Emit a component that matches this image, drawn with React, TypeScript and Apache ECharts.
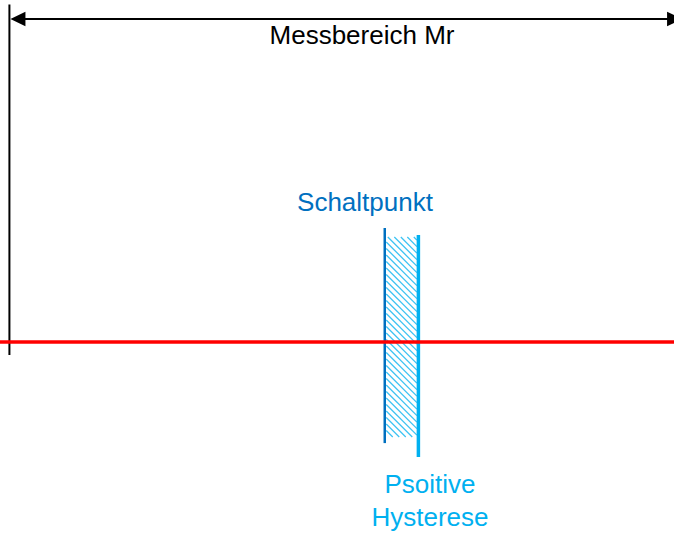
import React, { useEffect, useRef } from "react";
import * as echarts from "echarts";

// Measuring range (x) and levels (y), in chart units
const measuringRange = [0, 100];
const visibleX = [-1.4, 98.8];
const arrowLevel = 10;
const zeroLevel = 0;
const switchPoint = 55.8;
const hysteresisEnd = 60.8;
// vertical extents [top, bottom] of the drawn marks
const rangeMarkerSpan = [10.45, -0.4];
const switchLineSpan = [3.53, -3.13];
const hysteresisLineSpan = [3.31, -3.56];
const hatchSpan = [3.25, -2.94];

const labels = {
  range: "Messbereich Mr",
  switch: "Schaltpunkt",
  hyst1: "Psoitive",
  hyst2: "Hysterese",
};

const FONT = "'Liberation Sans', Arial, sans-serif";

export default function App() {
  const ref = useRef<HTMLDivElement>(null);
  useEffect(() => {
    if (!ref.current) return;
    const chart = echarts.init(ref.current, undefined, { renderer: "svg" });
    const option: any = {
      animation: false,
      backgroundColor: "#ffffff",
      grid: { left: 0, right: 0, top: 19, bottom: 196 },
      xAxis: { type: "value", min: visibleX[0], max: visibleX[1], show: false },
      yAxis: { type: "value", min: zeroLevel, max: arrowLevel, show: false },
      series: [
        {
          // hatched hysteresis band
          type: "custom",
          clip: false,
          silent: true,
          z: 2,
          encode: { x: [0, 1], y: [2, 3] },
          data: [[switchPoint, hysteresisEnd, hatchSpan[0], hatchSpan[1]]],
          renderItem: (params: any, api: any) => {
            const p0 = api.coord([api.value(0), api.value(2)]);
            const p1 = api.coord([api.value(1), api.value(3)]);
            const x0 = p0[0] + 1.5;
            const x1 = p1[0] - 1.5;
            const y0 = p0[1];
            const y1 = p1[1];
            const step = 6.5;
            const children: any[] = [];
            for (let c = x0 - y1; c <= x1 - y0; c += step) {
              const sx = Math.max(x0, y0 + c);
              const sy = sx - c;
              const ex = Math.min(x1, y1 + c);
              const ey = ex - c;
              if (ex > sx) {
                children.push({
                  type: "line",
                  shape: { x1: sx, y1: sy, x2: ex, y2: ey },
                  style: { stroke: "#3CC3F3", lineWidth: 1.3 },
                });
              }
            }
            return { type: "group", children };
          },
        },
        {
          // double-headed range arrow
          type: "custom",
          clip: false,
          silent: true,
          z: 3,
          encode: { x: [0, 1], y: 2 },
          data: [[measuringRange[0], measuringRange[1], arrowLevel]],
          renderItem: (params: any, api: any) => {
            const a = api.coord([api.value(0), api.value(2)]);
            const b = api.coord([api.value(1), api.value(2)]);
            const L = 15;
            const H = 7.3;
            const y = a[1];
            return {
              type: "group",
              children: [
                {
                  type: "line",
                  shape: { x1: a[0] + 4, y1: y, x2: b[0] - 4, y2: y },
                  style: { stroke: "#000000", lineWidth: 2 },
                },
                {
                  type: "polygon",
                  shape: { points: [[a[0] + 1, y], [a[0] + 1 + L, y - H], [a[0] + 1 + L, y + H]] },
                  style: { fill: "#000000" },
                },
                {
                  type: "polygon",
                  shape: { points: [[b[0], y], [b[0] - L, y - H], [b[0] - L, y + H]] },
                  style: { fill: "#000000" },
                },
              ],
            };
          },
        },
        {
          type: "line",
          clip: false,
          symbol: "none",
          silent: true,
          z: 3,
          lineStyle: { color: "#000000", width: 2 },
          data: [
            [measuringRange[0], rangeMarkerSpan[0]],
            [measuringRange[0], rangeMarkerSpan[1]],
          ],
        },
        {
          type: "line",
          clip: false,
          symbol: "none",
          silent: true,
          z: 3,
          lineStyle: { color: "#0070C0", width: 2.5 },
          data: [
            [switchPoint, switchLineSpan[0]],
            [switchPoint, switchLineSpan[1]],
          ],
        },
        {
          type: "line",
          clip: false,
          symbol: "none",
          silent: true,
          z: 3,
          lineStyle: { color: "#00B0F0", width: 3.5 },
          data: [
            [hysteresisEnd, hysteresisLineSpan[0]],
            [hysteresisEnd, hysteresisLineSpan[1]],
          ],
        },
        {
          type: "line",
          clip: false,
          symbol: "none",
          silent: true,
          z: 5,
          lineStyle: { color: "#FF0000", width: 3.5 },
          data: [
            [visibleX[0], zeroLevel],
            [visibleX[1], zeroLevel],
          ],
        },
      ],
      graphic: [
        {
          type: "text",
          x: 362,
          y: 35,
          style: { text: labels.range, fill: "#000000", font: `26px ${FONT}`, textAlign: "center", textVerticalAlign: "middle" },
        },
        {
          type: "text",
          x: 365,
          y: 202,
          style: { text: labels.switch, fill: "#0070C0", font: `26px ${FONT}`, textAlign: "center", textVerticalAlign: "middle" },
        },
        {
          type: "text",
          x: 430,
          y: 484,
          style: { text: labels.hyst1, fill: "#00B0F0", font: `26px ${FONT}`, textAlign: "center", textVerticalAlign: "middle" },
        },
        {
          type: "text",
          x: 430,
          y: 517,
          style: { text: labels.hyst2, fill: "#00B0F0", font: `26px ${FONT}`, textAlign: "center", textVerticalAlign: "middle" },
        },
      ],
    };
    chart.setOption(option);
    return () => chart.dispose();
  }, []);
  return (
    <div
      ref={ref}
      style={{ position: "fixed", left: 0, top: 0, width: 674, height: 538, background: "#fff" }}
    />
  );
}
